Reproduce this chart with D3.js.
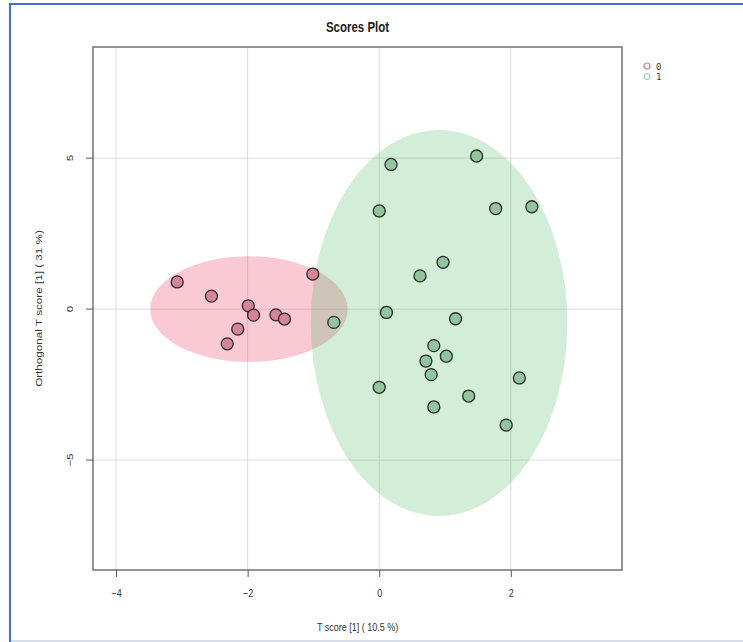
<!DOCTYPE html>
<html><head><meta charset="utf-8">
<script src="https://cdn.jsdelivr.net/npm/d3@7"></script>
<style>body{margin:0;background:#fff;} svg{display:block;}</style>
</head><body>
<svg id="c" width="743" height="642"></svg>
<script>
const groups = ["0", "1"];
const group0X = [-3.07, -2.55, -1.99, -1.91, -1.57, -1.44, -2.15, -2.31, -1.01];
const group0Y = [0.90, 0.43, 0.11, -0.20, -0.19, -0.33, -0.66, -1.15, 1.16];
const group1X = [0.18, 1.48, 0.00, 1.77, 2.32, 0.97, 0.62, 0.11, -0.69, 1.16, 0.83, 1.02, 0.71, 0.79, 0.00, 2.13, 1.36, 0.83, 1.93];
const group1Y = [4.79, 5.07, 3.25, 3.33, 3.39, 1.55, 1.10, -0.11, -0.44, -0.32, -1.21, -1.56, -1.72, -2.17, -2.59, -2.28, -2.88, -3.24, -3.84];
const ellipse0 = {cx: -1.98, cy: 0.0, rx: 1.50, ry: 1.75};
const ellipse1 = {cx: 0.91, cy: -0.46, rx: 1.95, ry: 6.39};
const xTicks = [-4, -2, 0, 2];
const yTicks = [-5, 0, 5];
const title = "Scores Plot";
const xLabel = "T score [1] ( 10.5 %)";
const yLabel = "Orthogonal T score [1] ( 31 %)";

const svg = d3.select("#c");
const L = 93, R = 622, T = 47, B = 570;
const x = d3.scaleLinear().domain([-4.35, 3.69]).range([L, R]);
const y = d3.scaleLinear().domain([-8.64, 8.68]).range([B, T]);
const S = 1.3; // vertical stretch of glyphs seen in the reference

// outer frame
svg.append("line").attr("x1",10).attr("x2",10).attr("y1",3).attr("y2",642).attr("stroke","#4472c4").attr("stroke-width",2);
svg.append("line").attr("x1",9).attr("x2",743).attr("y1",4).attr("y2",4).attr("stroke","#4472c4").attr("stroke-width",2);
svg.append("line").attr("x1",11).attr("x2",743).attr("y1",641).attr("y2",641).attr("stroke","#d6dee8").attr("stroke-width",2);

const font = "Liberation Sans, Arial, sans-serif";

// grid
const g = svg.append("g");
g.selectAll(".vg").data(xTicks).join("line")
  .attr("x1",d=>x(d)).attr("x2",d=>x(d)).attr("y1",T).attr("y2",B)
  .attr("stroke","#dcdcdc").attr("stroke-width",1);
g.selectAll(".hg").data(yTicks).join("line")
  .attr("x1",L).attr("x2",R).attr("y1",d=>y(d)).attr("y2",d=>y(d))
  .attr("stroke","#dcdcdc").attr("stroke-width",1);

// ellipses
const ell = [
  {e: ellipse0, fill: "rgba(236,64,100,0.28)"},
  {e: ellipse1, fill: "rgba(60,180,90,0.23)"}
];
svg.selectAll(".ell").data(ell).join("ellipse")
  .attr("cx",d=>x(d.e.cx)).attr("cy",d=>y(d.e.cy))
  .attr("rx",d=>x(d.e.cx+d.e.rx)-x(d.e.cx))
  .attr("ry",d=>y(d.e.cy)-y(d.e.cy+d.e.ry))
  .attr("fill",d=>d.fill);

// points
const pts0 = group0X.map((v,i)=>({x:v,y:group0Y[i]}));
const pts1 = group1X.map((v,i)=>({x:v,y:group1Y[i]}));
svg.selectAll(".p0").data(pts0).join("circle")
  .attr("cx",d=>x(d.x)).attr("cy",d=>y(d.y)).attr("r",6)
  .attr("fill","#d6849a").attr("stroke","#2b2b2b").attr("stroke-width",1.3);
svg.selectAll(".p1").data(pts1).join("circle")
  .attr("cx",d=>x(d.x)).attr("cy",d=>y(d.y)).attr("r",6)
  .attr("fill","#92c4a0").attr("stroke","#2b2b2b").attr("stroke-width",1.3);

// box
svg.append("rect").attr("x",L).attr("y",T).attr("width",R-L).attr("height",B-T)
  .attr("fill","none").attr("stroke","#7a7a7a").attr("stroke-width",1.6);

// x axis ticks
const xa = svg.append("g").attr("transform",`translate(0,${B})`)
  .call(d3.axisBottom(x).tickValues(xTicks).tickSize(7).tickFormat(d3.format("d")));
xa.select(".domain").remove();
xa.selectAll("line").attr("stroke","#555");
xa.selectAll("text").attr("font-family",font).attr("font-size",9).attr("fill","#333")
  .attr("dy",null).attr("y",0).attr("transform",`translate(0,27) scale(1,${S})`);

// y axis ticks
const ya = svg.append("g").attr("transform",`translate(${L},0)`)
  .call(d3.axisLeft(y).tickValues(yTicks).tickSize(7).tickFormat(d3.format("d")));
ya.select(".domain").remove();
ya.selectAll("line").attr("stroke","#555");
ya.selectAll(".tick").attr("transform",null);
ya.selectAll(".tick line").attr("y1",d=>y(d)).attr("y2",d=>y(d)).attr("x1",0).attr("x2",-7);
ya.selectAll("text").attr("font-family",font).attr("font-size",9).attr("fill","#333")
  .attr("text-anchor","middle").attr("dy",null).attr("x",0).attr("y",0)
  .attr("transform",d=>`translate(${-20},${y(d)}) rotate(-90) scale(${S},1)`);

// titles
svg.append("text").attr("transform",`translate(${(L+R)/2},32) scale(1,${S})`).attr("text-anchor","middle")
  .attr("font-family",font).attr("font-weight","bold").attr("font-size",11.5).attr("fill","#222").text(title);
svg.append("text").attr("transform",`translate(${(L+R)/2},631) scale(1,${S})`).attr("text-anchor","middle")
  .attr("font-family",font).attr("font-size",9).attr("fill","#333").text(xLabel);
svg.append("text").attr("transform",`translate(42,${(T+B)/2}) rotate(-90) scale(${S},1)`).attr("text-anchor","middle")
  .attr("font-family",font).attr("font-size",9).attr("fill","#333").text(yLabel);

// legend
const legColors = ["#e0708a","#8fcfb0"];
const leg = svg.selectAll(".leg").data(groups).join("g")
  .attr("transform",(d,i)=>`translate(647,${66+i*10.5})`);
leg.append("circle").attr("r",3).attr("fill","none").attr("stroke",(d,i)=>legColors[i]).attr("stroke-width",1.2);
leg.append("text").attr("x",9).attr("y",3.5).attr("font-family","DejaVu Sans Mono, monospace")
  .attr("font-size",9).attr("fill","#333").text(d=>d);
</script>
</body></html>
